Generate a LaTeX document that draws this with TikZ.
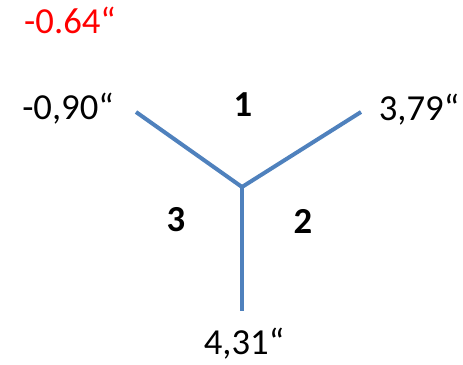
\documentclass[tikz,border=0pt]{standalone}
\usepackage{fontspec}
\setmainfont{Carlito}
\usetikzlibrary{positioning}
\definecolor{armblue}{HTML}{4F81BD}
\definecolor{shiftred}{HTML}{FF0000}

\begin{document}
\begin{tikzpicture}[
        x=0.75pt, y=-0.75pt,
        arm/.style={line width=3pt, armblue},
        val/.style={font=\fontsize{27.5}{33}\selectfont, anchor=base, inner sep=0pt},
        sector/.style={font=\fontsize{27.5}{33}\selectfont\bfseries, inner sep=0pt}
      ]
        \useasboundingbox (0,0) rectangle (463,364);
        \coordinate (hub) at (242,187);
        \coordinate (endL) at (136,112);
        \coordinate (endR) at (361,112);
        \coordinate (endB) at (242,311);
        \draw[arm] (hub) -- (endL);
        \draw[arm] (hub) -- (endR);
        \draw[arm] (hub) -- (endB);
        \node[val, shiftred] (shift) at (70,33) {-0.64“};
        \node[val] (valL) at (68,119) {-0,90“};
        \node[val] (valR) at (419,120) {3,79“};
        \node[val] (valB) at (244,354) {4,31“};
        \node[sector] (sec1) at (243,105) {1};
        \node[sector] (sec2) at (303,221) {2};
        \node[sector] (sec3) at (176,220) {3};
      \end{tikzpicture}
\end{document}
